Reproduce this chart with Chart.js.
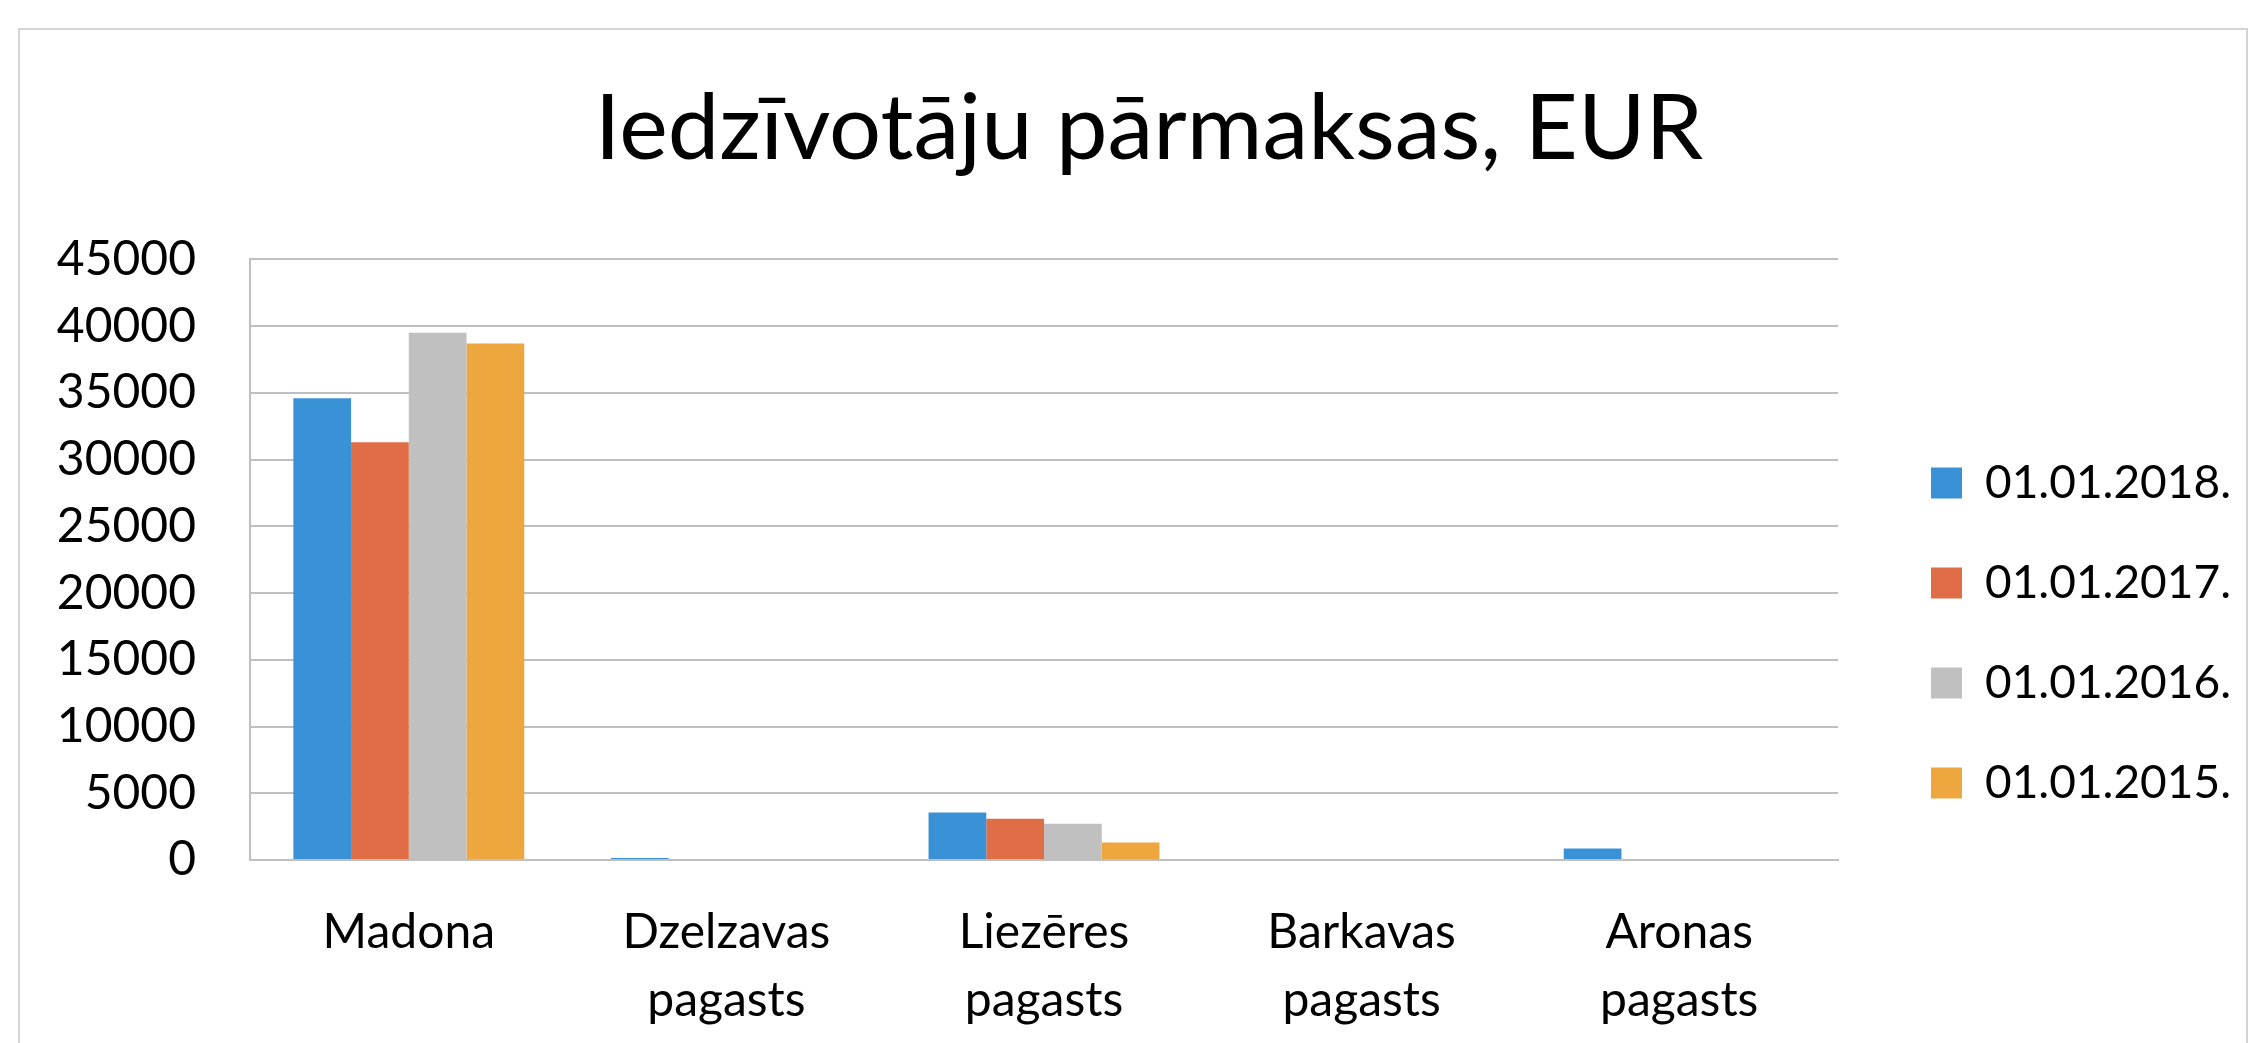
<!DOCTYPE html>
<html lang="lv">
<head>
  <meta charset="UTF-8" />
  <title>Iedzīvotāju pārmaksas, EUR</title>
  <style>
    body { margin: 0; background: #fff; }
    #wrap { position: relative; width: 2267px; height: 1043px; overflow: hidden; }
    #frame { position: absolute; left: 18px; top: 28px; width: 2230px; height: 1100px; border: 2px solid #d4d4d4; box-sizing: border-box; }
    #chart { position: absolute; left: 0; top: 0; }
  </style>
  <script src="https://cdn.jsdelivr.net/npm/chart.js"></script>
</head>
<body>
  <div id="wrap">
    <div id="frame"></div>
    <canvas id="chart" width="2267" height="1043"></canvas>
  </div>

  <script>
    const categories = ['Madona', ['Dzelzavas', 'pagasts'], ['Liezēres', 'pagasts'], ['Barkavas', 'pagasts'], ['Aronas', 'pagasts']];
    const seriesNames = ['01.01.2018.', '01.01.2017.', '01.01.2016.', '01.01.2015.'];
    const values2018 = [34600, 150, 3550, 0, 870];
    const values2017 = [31300, 0, 3100, 0, 0];
    const values2016 = [39500, 0, 2720, 0, 0];
    const values2015 = [38700, 0, 1320, 0, 0];
    const yTicks = [0, 5000, 10000, 15000, 20000, 25000, 30000, 35000, 40000, 45000];

    const colors = ['#3a92d6', '#df6d46', '#c0c0c0', '#eea73e'];
    const font = 'Lato';

    const ctx = document.getElementById('chart').getContext('2d');
    new Chart(ctx, {
      type: 'bar',
      data: {
        labels: categories,
        datasets: [values2018, values2017, values2016, values2015].map((v, i) => ({
          label: seriesNames[i], data: v, backgroundColor: colors[i], borderWidth: 0, yAxisID: 'y'
        }))
      },
      options: {
        responsive: false,
        animation: false,
        layout: { padding: { left: 57, right: 26, top: 20, bottom: 10 } },
        datasets: { bar: { categoryPercentage: 0.727, barPercentage: 1.0 } },
        plugins: {
          title: {
            display: true,
            text: 'Iedzīvotāju pārmaksas, EUR',
            color: '#000',
            font: { family: font, size: 92, weight: 'normal' },
            padding: { top: 54, bottom: 75 }
          },
          legend: {
            position: 'right',
            // empty title only pushes the items down to where they sit in the original
            title: { display: true, text: '', font: { size: 10, lineHeight: 1 }, padding: { top: 0, bottom: 203 } },
            labels: {
              color: '#000',
              font: { family: font, size: 46 },
              boxWidth: 31, boxHeight: 31,
              padding: 54
            }
          },
          tooltip: { enabled: false }
        },
        scales: {
          x: {
            grid: { display: false },
            border: { color: '#bfbfbf', width: 2 },
            ticks: { color: '#000', font: { family: font, size: 48, lineHeight: 1.42 }, padding: 30, maxRotation: 0 },
            afterFit: s => { s.height = 173; }
          },
          y: {
            min: 0, max: 45000,
            afterBuildTicks: s => { s.ticks = yTicks.map(v => ({ value: v })); },
            grid: { color: '#bfbfbf', lineWidth: 2, drawTicks: false },
            border: { color: '#bfbfbf', width: 2 },
            ticks: { color: '#000', font: { family: font, size: 48 }, padding: 54, callback: v => String(v) },
            afterFit: s => { s.width = 193; }
          },
          gap: {
            type: 'linear', position: 'right',
            grid: { display: false }, border: { display: false }, ticks: { display: false },
            afterFit: s => { s.width = 39; }
          }
        }
      }
    });
  </script>
</body>
</html>
